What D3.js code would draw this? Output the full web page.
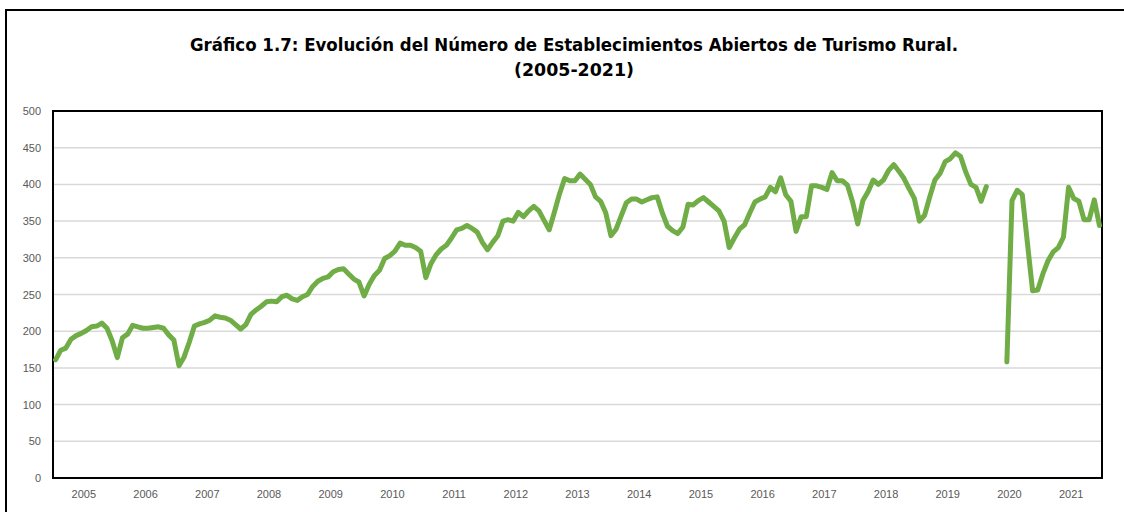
<!DOCTYPE html>
<html>
<head>
<meta charset="utf-8">
<script src="https://cdnjs.cloudflare.com/ajax/libs/d3/7.8.5/d3.min.js"></script>
<style>
  body { margin: 0; background: #fff; }
  svg { display: block; }
</style>
</head>
<body>
<svg id="main-svg" width="1124" height="512"></svg>
<script>
// Años del eje X
const years = d3.range(2005, 2022);

// Marcas del eje Y
const yTicks = [0, 50, 100, 150, 200, 250, 300, 350, 400, 450, 500];

// Número de establecimientos abiertos, mensual (null = sin datos, 2020)
const establecimientos = [
    // 2005
    161, 174, 177, 189, 194, 197, 201, 206, 207, 211, 204, 187,
    // 2006
    164, 191, 196, 208, 206, 204, 204, 205, 206, 204, 195, 188,
    // 2007
    153, 165, 185, 207, 210, 212, 215, 221, 219, 218, 215, 209,
    // 2008
    203, 209, 223, 229, 234, 240, 241, 240, 247, 249, 244, 242,
    // 2009
    247, 250, 261, 268, 272, 274, 281, 284, 285, 278, 271, 267,
    // 2010
    248, 264, 276, 283, 299, 303, 309, 320, 317, 317, 314, 309,
    // 2011
    273, 292, 304, 312, 317, 327, 338, 340, 344, 340, 335, 321,
    // 2012
    311, 321, 330, 350, 352, 350, 362, 356, 364, 370, 364, 351,
    // 2013
    338, 362, 387, 408, 405, 405, 414, 407, 400, 383, 377, 361,
    // 2014
    330, 339, 357, 375, 380, 380, 376, 379, 382, 383, 361, 343,
    // 2015
    337, 333, 342, 373, 372, 378, 382, 376, 370, 364, 350, 314,
    // 2016
    327, 339, 345, 361, 376, 380, 383, 396, 390, 409, 386, 377,
    // 2017
    336, 356, 356, 398, 398, 396, 393, 416, 405, 405, 399, 376,
    // 2018
    346, 378, 390, 406, 400, 406, 419, 427, 418, 408, 394, 381,
    // 2019
    350, 358, 383, 406, 415, 431, 435, 443, 438, 417, 400, 396,
    // 2020
    377, 397, null, null, null, 158, 378, 392, 386, 320, 255, 256,
    // 2021
    278, 296, 308, 314, 328, 396, 381, 377, 352, 352, 379, 344
];

const titleLines = [
    'Gráfico 1.7: Evolución del Número de Establecimientos Abiertos de Turismo Rural.',
    '(2005-2021)'
];

const svg = d3.select('#main-svg');

const plot = { left: 53, right: 1102, top: 111, bottom: 478 };

// Marco exterior (sigue más allá del borde derecho e inferior)
svg.append('rect')
    .attr('x', 6)
    .attr('y', 10)
    .attr('width', 1140)
    .attr('height', 520)
    .attr('fill', 'none')
    .attr('stroke', '#000')
    .attr('stroke-width', 2);

// Título
svg.append('text')
    .attr('x', 574)
    .attr('y', 51)
    .attr('text-anchor', 'middle')
    .attr('textLength', 768)
    .attr('lengthAdjust', 'spacingAndGlyphs')
    .style('font-family', '"DejaVu Sans", sans-serif')
    .style('font-weight', 'bold')
    .style('font-size', '17px')
    .text(titleLines[0]);

svg.append('text')
    .attr('x', 574)
    .attr('y', 76)
    .attr('text-anchor', 'middle')
    .attr('textLength', 120)
    .attr('lengthAdjust', 'spacingAndGlyphs')
    .style('font-family', '"DejaVu Sans", sans-serif')
    .style('font-weight', 'bold')
    .style('font-size', '17px')
    .text(titleLines[1]);

// Escalas
const yScale = d3.scaleLinear()
    .domain([0, 500])
    .range([plot.bottom, plot.top]);

const yearScale = d3.scaleBand()
    .domain(years)
    .range([plot.left, plot.right]);

const monthScale = d3.scaleBand()
    .domain(d3.range(establecimientos.length))
    .range([plot.left, plot.right]);

// Líneas de cuadrícula
svg.append('g')
    .selectAll('line')
    .data(yTicks.filter(t => t > 0 && t < 500))
    .enter()
    .append('line')
    .attr('x1', plot.left)
    .attr('x2', plot.right)
    .attr('y1', d => yScale(d))
    .attr('y2', d => yScale(d))
    .attr('stroke', '#d9d9d9')
    .attr('stroke-width', 1.5);

// Eje Y
const yAxis = svg.append('g')
    .attr('transform', `translate(${plot.left},0)`)
    .call(d3.axisLeft(yScale).tickValues(yTicks).tickSize(0).tickPadding(12));
yAxis.select('.domain').remove();
yAxis.selectAll('text')
    .style('font-family', '"Liberation Sans", Arial, sans-serif')
    .style('font-size', '11px')
    .attr('fill', '#595959');

// Eje X
const xAxis = svg.append('g')
    .attr('transform', `translate(0,${plot.bottom})`)
    .call(d3.axisBottom(yearScale).tickSize(0).tickPadding(12));
xAxis.select('.domain').remove();
xAxis.selectAll('text')
    .style('font-family', '"Liberation Sans", Arial, sans-serif')
    .style('font-size', '11px')
    .attr('fill', '#595959');

// Borde del área de trazado
svg.append('rect')
    .attr('x', plot.left)
    .attr('y', plot.top)
    .attr('width', plot.right - plot.left)
    .attr('height', plot.bottom - plot.top)
    .attr('fill', 'none')
    .attr('stroke', '#000')
    .attr('stroke-width', 2);

// Serie
const line = d3.line()
    .defined(d => d != null)
    .x((d, i) => monthScale(i) + monthScale.bandwidth() / 2)
    .y(d => yScale(d));

svg.append('path')
    .datum(establecimientos)
    .attr('d', line)
    .attr('fill', 'none')
    .attr('stroke', '#70ad47')
    .attr('stroke-width', 5)
    .attr('stroke-linejoin', 'round')
    .attr('stroke-linecap', 'round');
</script>
</body>
</html>
